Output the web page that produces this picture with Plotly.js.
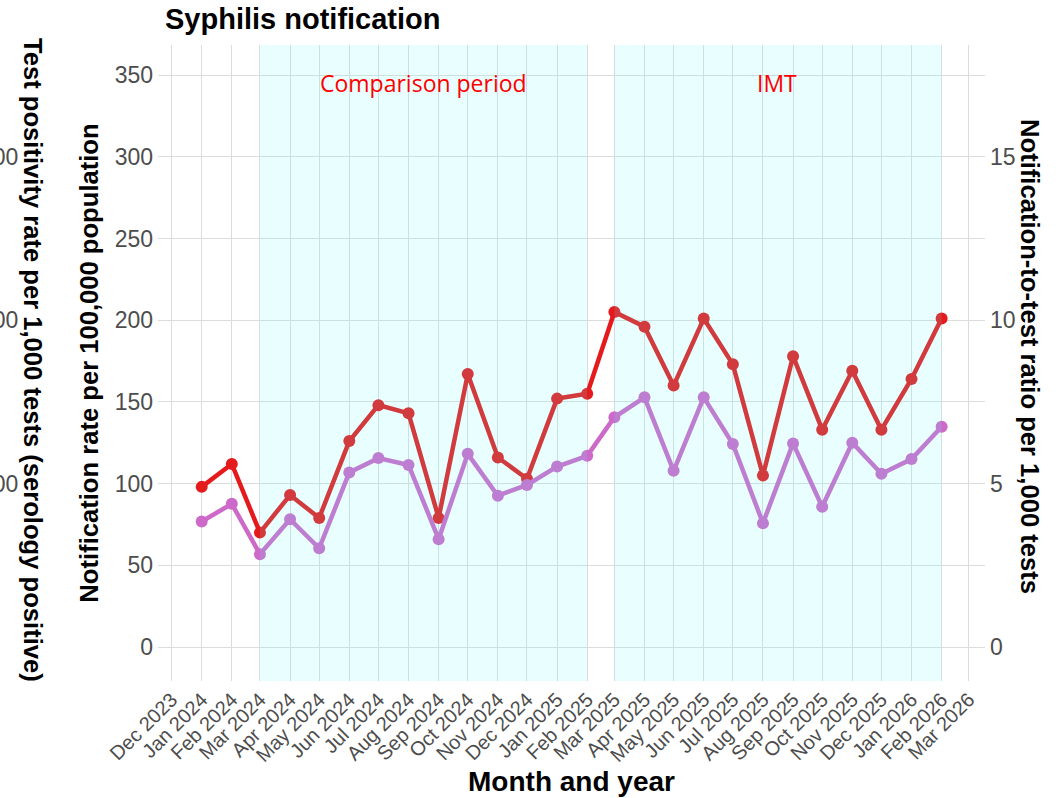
<!DOCTYPE html>
<html>
<head>
<meta charset="utf-8">
<script src="https://cdn.plot.ly/plotly-3.0.1.min.js"></script>
<style>html,body{margin:0;padding:0;background:#fff;}</style>
</head>
<body>
<div id="chart" style="width:1061px;height:798px;"></div>
<script>
// Months (first of month)
var months = ['2024-01-01','2024-02-01','2024-03-01','2024-04-01','2024-05-01','2024-06-01',
  '2024-07-01','2024-08-01','2024-09-01','2024-10-01','2024-11-01','2024-12-01',
  '2025-01-01','2025-02-01','2025-03-01','2025-04-01','2025-05-01','2025-06-01',
  '2025-07-01','2025-08-01','2025-09-01','2025-10-01','2025-11-01','2025-12-01',
  '2026-01-01','2026-02-01'];

// Notification rate per 100,000 population (left axis)
var notificationRate = [98, 112, 70, 93, 79, 126, 148, 143, 79, 167, 116, 103,
  152, 155, 205, 196, 160, 201, 173, 105, 178, 133, 169, 133, 164, 201];

// Notification-to-test ratio per 1,000 tests (right axis)
var notifToTestRatio = [3.84, 4.38, 2.84, 3.91, 3.02, 5.34, 5.78, 5.57, 3.30, 5.91, 4.63, 4.96,
  5.52, 5.85, 7.03, 7.64, 5.39, 7.64, 6.21, 3.79, 6.23, 4.29, 6.25, 5.30, 5.75, 6.74];

// Axis ticks
var xTickVals = ['2023-12-01','2024-01-01','2024-02-01','2024-03-01','2024-04-01','2024-05-01',
  '2024-06-01','2024-07-01','2024-08-01','2024-09-01','2024-10-01','2024-11-01','2024-12-01',
  '2025-01-01','2025-02-01','2025-03-01','2025-04-01','2025-05-01','2025-06-01','2025-07-01',
  '2025-08-01','2025-09-01','2025-10-01','2025-11-01','2025-12-01','2026-01-01','2026-02-01','2026-03-01'];
var leftTickVals = [0, 50, 100, 150, 200, 250, 300, 350];
var rightTickVals = [0, 5, 10, 15];
var outerTickVals = [300, 200, 100];
var outerTickText = ['300', '200', '100'];

// Shaded periods
var periodNames = ['Comparison period', 'IMT'];
var periodStart = ['2024-03-01', '2025-03-01'];
var periodEnd = ['2025-02-01', '2026-02-01'];
var periodLabelX = ['2024-08-16', '2025-08-15'];

var FONT = 'Liberation Sans, Arial, sans-serif';
var GRID = '#dcdcdc';
var TICKC = '#4d4d4d';
var TITLE_SIZE = 25.6;

var traces = [
  {
    x: months, y: notificationRate, type: 'scatter', mode: 'lines+markers',
    name: 'Notification rate', yaxis: 'y',
    line: {color: '#e41a1c', width: 4.5}, marker: {color: '#e41a1c', size: 12},
    showlegend: false
  },
  {
    x: months, y: notifToTestRatio, type: 'scatter', mode: 'lines+markers',
    name: 'Notification-to-test ratio', yaxis: 'y2',
    line: {color: '#cd69c9', width: 4.5}, marker: {color: '#cd69c9', size: 12},
    showlegend: false
  }
];

var shapes = periodStart.map(function (s, i) {
  return {
    type: 'rect', xref: 'x', yref: 'paper', x0: s, x1: periodEnd[i], y0: 0, y1: 1,
    fillcolor: 'rgb(100,248,255)', opacity: 0.15, line: {width: 0}, layer: 'above'
  };
});

var annotations = periodNames.map(function (t, i) {
  return {
    text: t, xref: 'x', yref: 'y', x: periodLabelX[i], y: 345,
    showarrow: false, xanchor: 'center', yanchor: 'middle',
    font: {family: 'Open Sans, sans-serif', size: 23, color: '#ff0000'}
  };
});

outerTickVals.forEach(function (v, i) {
  annotations.push({
    text: outerTickText[i], xref: 'paper', yref: 'y', x: -0.1669, y: v,
    showarrow: false, xanchor: 'right', yanchor: 'middle',
    font: {family: FONT, size: 23, color: TICKC}
  });
});

annotations.push({
  text: 'Test positivity rate per 1,000 tests (serology positive)',
  xref: 'paper', yref: 'paper', x: -0.1511, y: 0.5047, textangle: 90,
  showarrow: false, xanchor: 'center', yanchor: 'middle',
  font: {family: FONT, size: TITLE_SIZE, weight: 'bold', color: '#000'}
});
annotations.push({
  text: 'Notification-to-test ratio per 1,000 tests',
  xref: 'paper', yref: 'paper', x: 1.0544, y: 0.5094, textangle: 90,
  showarrow: false, xanchor: 'center', yanchor: 'middle',
  font: {family: FONT, size: TITLE_SIZE, weight: 'bold', color: '#000'}
});

var layout = {
  width: 1061, height: 798,
  margin: {l: 158, r: 76, t: 45, b: 117, pad: 0},
  paper_bgcolor: '#ffffff', plot_bgcolor: '#ffffff',
  font: {family: FONT},
  title: {
    text: 'Syphilis notification', xref: 'container', yref: 'container',
    x: 165 / 1061, xanchor: 'left', y: 1 - 19 / 798, yanchor: 'middle',
    font: {family: FONT, size: 29, weight: 'bold', color: '#000'}
  },
  xaxis: {
    type: 'date', range: ['2023-11-17', '2026-03-17 16:00'],
    tickmode: 'array', tickvals: xTickVals, tickformat: '%b %Y', tickangle: -45,
    showgrid: true, gridcolor: GRID, gridwidth: 1, zeroline: false, showline: false,
    ticks: '', ticklabelstandoff: 2,
    tickfont: {family: FONT, size: 20, color: TICKC},
    title: {text: 'Month and year', standoff: 6, font: {family: FONT, size: 28, weight: 'bold', color: '#000'}}
  },
  yaxis: {
    range: [-20.8, 368.4], tickmode: 'array', tickvals: leftTickVals,
    showgrid: true, gridcolor: GRID, gridwidth: 1, zeroline: false, showline: false,
    ticks: '', ticklabelstandoff: 4,
    tickfont: {family: FONT, size: 23, color: TICKC},
    title: {text: 'Notification rate per 100,000 population', standoff: 8,
      font: {family: FONT, size: TITLE_SIZE, weight: 'bold', color: '#000'}}
  },
  yaxis2: {
    overlaying: 'y', side: 'right', range: [-1.04, 18.42],
    tickmode: 'array', tickvals: rightTickVals,
    showgrid: false, zeroline: false, showline: false,
    ticks: '', ticklabelstandoff: 4,
    tickfont: {family: FONT, size: 23, color: TICKC}
  },
  shapes: shapes,
  annotations: annotations,
  showlegend: false
};

Plotly.newPlot('chart', traces, layout, {displayModeBar: false, staticPlot: true});
</script>
</body>
</html>
